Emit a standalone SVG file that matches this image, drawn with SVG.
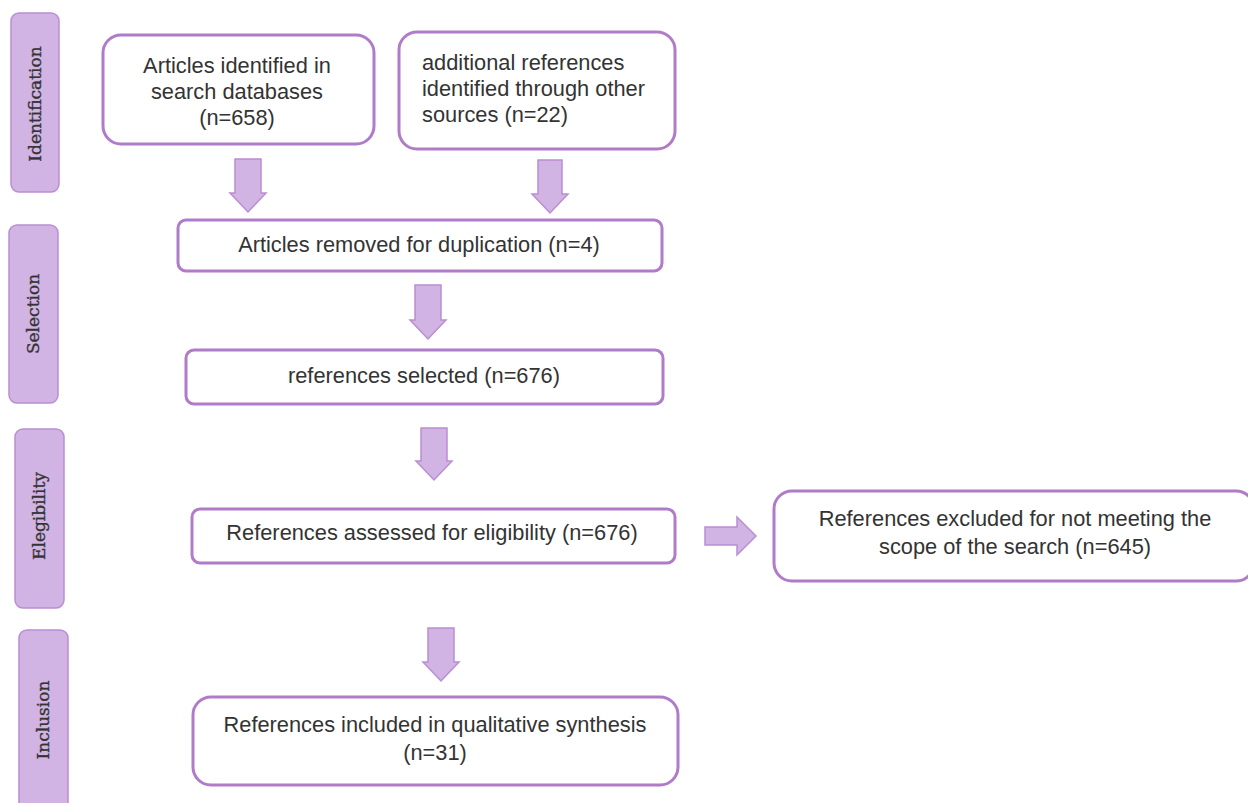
<svg xmlns="http://www.w3.org/2000/svg" width="1248" height="803" viewBox="0 0 1248 803">
<style>
.stage{fill:#d1b3e4;stroke:#b98fd2;stroke-width:1.5}
.stxt{font-family:"DejaVu Serif",serif;font-size:17px;fill:#333;stroke:#333;stroke-width:0.35;text-anchor:middle}
.box{fill:#fff;stroke:#b07cc9;stroke-width:3}
.t{font-family:"Liberation Sans",Arial,sans-serif;font-size:21.8px;fill:#333;text-anchor:middle}
.tl{font-family:"Liberation Sans",Arial,sans-serif;font-size:21.8px;fill:#333}
.arr{fill:#d1b3e4;stroke:#b98fd2;stroke-width:1.5}
</style>
<rect width="1248" height="803" fill="#fff"/>
<g id="stage-identification"><rect class="stage" x="11" y="13" width="48" height="179" rx="8"/><text class="stxt" transform="translate(41,104) rotate(-90)">Identification</text></g>
<g id="stage-selection"><rect class="stage" x="9" y="225" width="49" height="178" rx="8"/><text class="stxt" transform="translate(39,314) rotate(-90)">Selection</text></g>
<g id="stage-elegibility"><rect class="stage" x="15" y="429" width="49" height="179" rx="8"/><text class="stxt" transform="translate(45,516) rotate(-90)">Elegibility</text></g>
<g id="stage-inclusion"><rect class="stage" x="19" y="630" width="49" height="190" rx="8"/><text class="stxt" transform="translate(49,720) rotate(-90)">Inclusion</text></g>

<g id="n1"><rect class="box" x="103" y="35" width="271" height="109" rx="18"/>
<text class="t" x="237" y="73">Articles identified in</text><text class="t" x="237" y="99">search databases</text><text class="t" x="237" y="125">(n=658)</text></g>
<g id="n2"><rect class="box" x="399" y="32" width="276" height="117" rx="18"/>
<text class="tl" x="422" y="70">additional references</text><text class="tl" x="422" y="96">identified through other</text><text class="tl" x="422" y="122">sources (n=22)</text></g>
<g id="n3"><rect class="box" x="178" y="220" width="484" height="51" rx="8"/><text class="t" x="419" y="252">Articles removed for duplication (n=4)</text></g>
<g id="n4"><rect class="box" x="186" y="350" width="477" height="54" rx="8"/><text class="t" x="424" y="383">references selected (n=676)</text></g>
<g id="n5"><rect class="box" x="192" y="509" width="483" height="54" rx="8"/><text class="t" x="432" y="540">References assessed for eligibility (n=676)</text></g>
<g id="n6"><rect class="box" x="774" y="491" width="480" height="90" rx="18"/>
<text class="t" x="1015" y="526">References excluded for not meeting the</text><text class="t" x="1015" y="554">scope of the search (n=645)</text></g>
<g id="n7"><rect class="box" x="193" y="697" width="485" height="88" rx="18"/>
<text class="t" x="435" y="732">References included in qualitative synthesis</text><text class="t" x="435" y="760">(n=31)</text></g>

<g id="connectors">
<polygon class="arr" points="235,159 261,159 261,193 266,193 248,212 230,193 235,193"/>
<polygon class="arr" points="538,160 562,160 562,194 568,194 550,213 532,194 538,194"/>
<polygon class="arr" points="415,285 441,285 441,320 446,320 428,339 410,320 415,320"/>
<polygon class="arr" points="421,428 447,428 447,461 452,461 434,480 416,461 421,461"/>
<polygon class="arr" points="428,628 454,628 454,662 459,662 441,681 423,662 428,662"/>
<polygon class="arr" points="705,527 737,527 737,517 756,536 737,555 737,545 705,545"/>
</g>
</svg>
